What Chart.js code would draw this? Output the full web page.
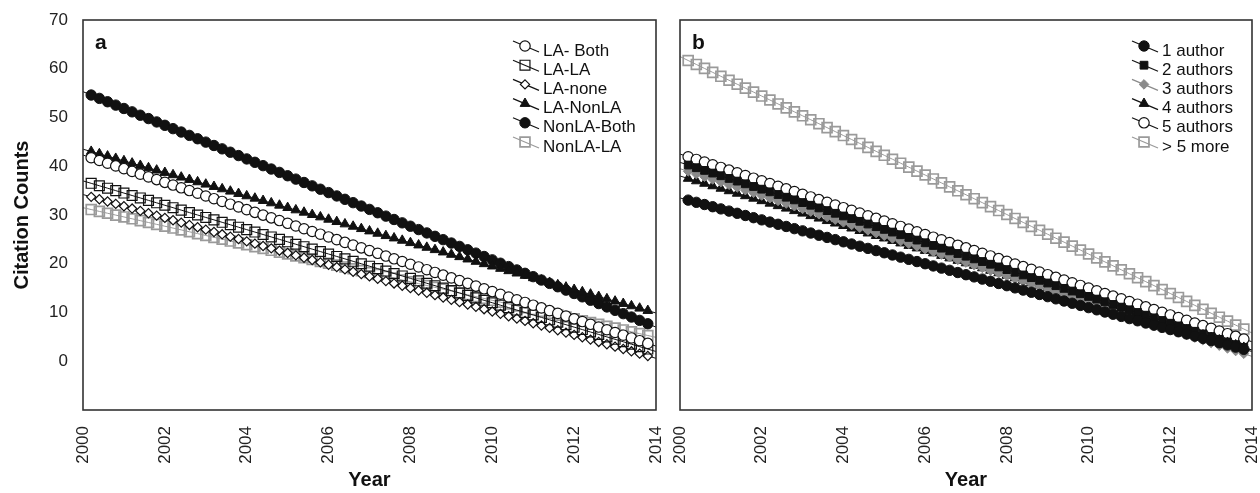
<!DOCTYPE html>
<html>
<head>
<meta charset="utf-8">
<title>Citation counts by year</title>
<script src="https://cdn.jsdelivr.net/npm/chart.js@4.4.1/dist/chart.umd.min.js"></script>
<style>
    html, body { margin: 0; padding: 0; background: #fff; }
    #wrap { position: relative; width: 1260px; height: 493px; }
    #chartA { position: absolute; left: 0; top: 0; }
    #chartB { position: absolute; left: 668px; top: 0; }
</style>
</head>
<body>
<div id="wrap">
    <canvas id="chartA" width="668" height="493"></canvas>
    <canvas id="chartB" width="592" height="493"></canvas>
</div>
<script>
// x positions of the fitted points (every 0.2 year)
const years = [2000, 2000.2, 2000.4, 2000.6, 2000.8, 2001, 2001.2, 2001.4, 2001.6, 2001.8,
    2002, 2002.2, 2002.4, 2002.6, 2002.8, 2003, 2003.2, 2003.4, 2003.6, 2003.8,
    2004, 2004.2, 2004.4, 2004.6, 2004.8, 2005, 2005.2, 2005.4, 2005.6, 2005.8,
    2006, 2006.2, 2006.4, 2006.6, 2006.8, 2007, 2007.2, 2007.4, 2007.6, 2007.8,
    2008, 2008.2, 2008.4, 2008.6, 2008.8, 2009, 2009.2, 2009.4, 2009.6, 2009.8,
    2010, 2010.2, 2010.4, 2010.6, 2010.8, 2011, 2011.2, 2011.4, 2011.6, 2011.8,
    2012, 2012.2, 2012.4, 2012.6, 2012.8, 2013, 2013.2, 2013.4, 2013.6, 2013.8, 2014];
const xTicks = [2000, 2002, 2004, 2006, 2008, 2010, 2012, 2014];
const yTicks = [0, 10, 20, 30, 40, 50, 60, 70];

// panel a
const laBoth = [42.30, 41.74, 41.18, 40.62, 40.06, 39.50, 38.94, 38.38, 37.82, 37.26,
    36.70, 36.14, 35.58, 35.02, 34.46, 33.90, 33.34, 32.78, 32.22, 31.66,
    31.10, 30.54, 29.98, 29.42, 28.86, 28.30, 27.74, 27.18, 26.62, 26.06,
    25.50, 24.94, 24.38, 23.82, 23.26, 22.70, 22.14, 21.58, 21.02, 20.46,
    19.90, 19.34, 18.78, 18.22, 17.66, 17.10, 16.54, 15.98, 15.42, 14.86,
    14.30, 13.74, 13.18, 12.62, 12.06, 11.50, 10.94, 10.38, 9.82, 9.26,
    8.70, 8.14, 7.58, 7.02, 6.46, 5.90, 5.34, 4.78, 4.22, 3.66, 3.10];
const laLa = [37, 36.5, 36, 35.5, 35, 34.5, 34, 33.5, 33, 32.5,
    32, 31.5, 31, 30.5, 30, 29.5, 29, 28.5, 28, 27.5,
    27, 26.5, 26, 25.5, 25, 24.5, 24, 23.5, 23, 22.5,
    22, 21.5, 21, 20.5, 20, 19.5, 19, 18.5, 18, 17.5,
    17, 16.5, 16, 15.5, 15, 14.5, 14, 13.5, 13, 12.5,
    12, 11.5, 11, 10.5, 10, 9.5, 9, 8.5, 8, 7.5,
    7, 6.5, 6, 5.5, 5, 4.5, 4, 3.5, 3, 2.5, 2];
const laNone = [34.20, 33.72, 33.24, 32.76, 32.28, 31.80, 31.32, 30.84, 30.36, 29.88,
    29.40, 28.92, 28.44, 27.96, 27.48, 27.00, 26.52, 26.04, 25.56, 25.08,
    24.60, 24.12, 23.64, 23.16, 22.68, 22.20, 21.72, 21.24, 20.76, 20.28,
    19.80, 19.32, 18.84, 18.36, 17.88, 17.40, 16.92, 16.44, 15.96, 15.48,
    15.00, 14.52, 14.04, 13.56, 13.08, 12.60, 12.12, 11.64, 11.16, 10.68,
    10.20, 9.72, 9.24, 8.76, 8.28, 7.80, 7.32, 6.84, 6.36, 5.88,
    5.40, 4.92, 4.44, 3.96, 3.48, 3.00, 2.52, 2.04, 1.56, 1.08, 0.60];
const laNonLa = [43.50, 43.02, 42.54, 42.06, 41.58, 41.10, 40.62, 40.14, 39.66, 39.18,
    38.70, 38.22, 37.74, 37.26, 36.78, 36.30, 35.82, 35.34, 34.86, 34.38,
    33.90, 33.42, 32.94, 32.46, 31.98, 31.50, 31.02, 30.54, 30.06, 29.58,
    29.10, 28.62, 28.14, 27.66, 27.18, 26.70, 26.22, 25.74, 25.26, 24.78,
    24.30, 23.82, 23.34, 22.86, 22.38, 21.90, 21.42, 20.94, 20.46, 19.98,
    19.50, 19.02, 18.54, 18.06, 17.58, 17.10, 16.62, 16.14, 15.66, 15.18,
    14.70, 14.22, 13.74, 13.26, 12.78, 12.30, 11.82, 11.34, 10.86, 10.38, 9.90];
const nonLaBoth = [55.30, 54.61, 53.92, 53.23, 52.54, 51.85, 51.16, 50.47, 49.78, 49.09,
    48.40, 47.71, 47.02, 46.33, 45.64, 44.95, 44.26, 43.57, 42.88, 42.19,
    41.50, 40.81, 40.12, 39.43, 38.74, 38.05, 37.36, 36.67, 35.98, 35.29,
    34.60, 33.91, 33.22, 32.53, 31.84, 31.15, 30.46, 29.77, 29.08, 28.39,
    27.70, 27.01, 26.32, 25.63, 24.94, 24.25, 23.56, 22.87, 22.18, 21.49,
    20.80, 20.11, 19.42, 18.73, 18.04, 17.35, 16.66, 15.97, 15.28, 14.59,
    13.90, 13.21, 12.52, 11.83, 11.14, 10.45, 9.76, 9.07, 8.38, 7.69, 7.00];
const nonLaLa = [31.50, 31.12, 30.74, 30.36, 29.98, 29.60, 29.22, 28.84, 28.46, 28.08,
    27.70, 27.32, 26.94, 26.56, 26.18, 25.80, 25.42, 25.04, 24.66, 24.28,
    23.90, 23.52, 23.14, 22.76, 22.38, 22.00, 21.62, 21.24, 20.86, 20.48,
    20.10, 19.72, 19.34, 18.96, 18.58, 18.20, 17.82, 17.44, 17.06, 16.68,
    16.30, 15.92, 15.54, 15.16, 14.78, 14.40, 14.02, 13.64, 13.26, 12.88,
    12.50, 12.12, 11.74, 11.36, 10.98, 10.60, 10.22, 9.84, 9.46, 9.08,
    8.70, 8.32, 7.94, 7.56, 7.18, 6.80, 6.42, 6.04, 5.66, 5.28, 4.90];

// panel b
const oneAuthor = [33.50, 33.05, 32.60, 32.15, 31.70, 31.25, 30.80, 30.35, 29.90, 29.45,
    29.00, 28.55, 28.10, 27.65, 27.20, 26.75, 26.30, 25.85, 25.40, 24.95,
    24.50, 24.05, 23.60, 23.15, 22.70, 22.25, 21.80, 21.35, 20.90, 20.45,
    20.00, 19.55, 19.10, 18.65, 18.20, 17.75, 17.30, 16.85, 16.40, 15.95,
    15.50, 15.05, 14.60, 14.15, 13.70, 13.25, 12.80, 12.35, 11.90, 11.45,
    11.00, 10.55, 10.10, 9.65, 9.20, 8.75, 8.30, 7.85, 7.40, 6.95,
    6.50, 6.05, 5.60, 5.15, 4.70, 4.25, 3.80, 3.35, 2.90, 2.45, 2.00];
const twoAuthors = [40.80, 40.25, 39.70, 39.15, 38.60, 38.05, 37.50, 36.95, 36.40, 35.85,
    35.30, 34.75, 34.20, 33.65, 33.10, 32.55, 32.00, 31.45, 30.90, 30.35,
    29.80, 29.25, 28.70, 28.15, 27.60, 27.05, 26.50, 25.95, 25.40, 24.85,
    24.30, 23.75, 23.20, 22.65, 22.10, 21.55, 21.00, 20.45, 19.90, 19.35,
    18.80, 18.25, 17.70, 17.15, 16.60, 16.05, 15.50, 14.95, 14.40, 13.85,
    13.30, 12.75, 12.20, 11.65, 11.10, 10.55, 10.00, 9.45, 8.90, 8.35,
    7.80, 7.25, 6.70, 6.15, 5.60, 5.05, 4.50, 3.95, 3.40, 2.85, 2.30];
const threeAuthors = [39.50, 38.95, 38.40, 37.85, 37.30, 36.75, 36.20, 35.65, 35.10, 34.55,
    34.00, 33.45, 32.90, 32.35, 31.80, 31.25, 30.70, 30.15, 29.60, 29.05,
    28.50, 27.95, 27.40, 26.85, 26.30, 25.75, 25.20, 24.65, 24.10, 23.55,
    23.00, 22.45, 21.90, 21.35, 20.80, 20.25, 19.70, 19.15, 18.60, 18.05,
    17.50, 16.95, 16.40, 15.85, 15.30, 14.75, 14.20, 13.65, 13.10, 12.55,
    12.00, 11.45, 10.90, 10.35, 9.80, 9.25, 8.70, 8.15, 7.60, 7.05,
    6.50, 5.95, 5.40, 4.85, 4.30, 3.75, 3.20, 2.65, 2.10, 1.55, 1.00];
const fourAuthors = [38.00, 37.49, 36.98, 36.47, 35.96, 35.45, 34.94, 34.43, 33.92, 33.41,
    32.90, 32.39, 31.88, 31.37, 30.86, 30.35, 29.84, 29.33, 28.82, 28.31,
    27.80, 27.29, 26.78, 26.27, 25.76, 25.25, 24.74, 24.23, 23.72, 23.21,
    22.70, 22.19, 21.68, 21.17, 20.66, 20.15, 19.64, 19.13, 18.62, 18.11,
    17.60, 17.09, 16.58, 16.07, 15.56, 15.05, 14.54, 14.03, 13.52, 13.01,
    12.50, 11.99, 11.48, 10.97, 10.46, 9.95, 9.44, 8.93, 8.42, 7.91,
    7.40, 6.89, 6.38, 5.87, 5.36, 4.85, 4.34, 3.83, 3.32, 2.81, 2.30];
const fiveAuthors = [42.50, 41.95, 41.40, 40.85, 40.30, 39.75, 39.20, 38.65, 38.10, 37.55,
    37.00, 36.45, 35.90, 35.35, 34.80, 34.25, 33.70, 33.15, 32.60, 32.05,
    31.50, 30.95, 30.40, 29.85, 29.30, 28.75, 28.20, 27.65, 27.10, 26.55,
    26.00, 25.45, 24.90, 24.35, 23.80, 23.25, 22.70, 22.15, 21.60, 21.05,
    20.50, 19.95, 19.40, 18.85, 18.30, 17.75, 17.20, 16.65, 16.10, 15.55,
    15.00, 14.45, 13.90, 13.35, 12.80, 12.25, 11.70, 11.15, 10.60, 10.05,
    9.50, 8.95, 8.40, 7.85, 7.30, 6.75, 6.20, 5.65, 5.10, 4.55, 4.00];
const moreAuthors = [62.50, 61.69, 60.88, 60.07, 59.26, 58.45, 57.64, 56.83, 56.02, 55.21,
    54.40, 53.59, 52.78, 51.97, 51.16, 50.35, 49.54, 48.73, 47.92, 47.11,
    46.30, 45.49, 44.68, 43.87, 43.06, 42.25, 41.44, 40.63, 39.82, 39.01,
    38.20, 37.39, 36.58, 35.77, 34.96, 34.15, 33.34, 32.53, 31.72, 30.91,
    30.10, 29.29, 28.48, 27.67, 26.86, 26.05, 25.24, 24.43, 23.62, 22.81,
    22.00, 21.19, 20.38, 19.57, 18.76, 17.95, 17.14, 16.33, 15.52, 14.71,
    13.90, 13.09, 12.28, 11.47, 10.66, 9.85, 9.04, 8.23, 7.42, 6.61, 5.80];

const BLACK = '#111';
const GRAY = '#9a9a9a';
const FONT = '"Liberation Sans", Arial, Helvetica, sans-serif';

function series(label, values, color, style, radius, fill, bw) {
    return {
        label,
        data: years.map((x, i) => ({ x, y: values[i] })),
        borderColor: color,
        borderWidth: 1,
        pointStyle: style,
        markerRadius: radius,
        // the fitted line runs edge to edge, the markers stop just short of it
        pointRadius: ctx => (ctx.dataIndex === 0 || ctx.dataIndex === years.length - 1) ? 0 : radius,
        pointHoverRadius: radius,
        pointBorderColor: color,
        pointBackgroundColor: fill,
        pointBorderWidth: bw,
        tension: 0,
        fill: false
    };
}

// frame, panel letter and the slanted-symbol legend
const panelDecor = {
    id: 'panelDecor',
    afterDatasetsDraw(chart, args, opts) {
        const { ctx, chartArea: a } = chart;
        ctx.save();
        ctx.strokeStyle = '#333';
        ctx.lineWidth = 1.6;
        ctx.strokeRect(a.left, a.top, a.right - a.left, a.bottom - a.top);

        ctx.fillStyle = '#111';
        ctx.textBaseline = 'middle';
        ctx.font = 'bold 21px ' + FONT;
        ctx.fillText(opts.letter, a.left + 12, a.top + 23);

        ctx.font = '17px ' + FONT;
        const tx = a.right - opts.textRight;
        chart.data.datasets.forEach((d, i) => {
            const ty = a.top + 31 + i * 19.2;
            const sx = tx - 30;
            ctx.strokeStyle = d.borderColor;
            ctx.lineWidth = 1.2;
            ctx.beginPath();
            ctx.moveTo(sx, ty - 10);
            ctx.lineTo(sx + 26, ty + 1);
            ctx.stroke();
            ctx.fillStyle = d.pointBackgroundColor;
            ctx.strokeStyle = d.pointBorderColor;
            ctx.lineWidth = d.pointBorderWidth;
            Chart.helpers.drawPoint(ctx, {
                pointStyle: d.pointStyle, radius: d.markerRadius,
                borderWidth: d.pointBorderWidth, rotation: 0
            }, sx + 12, ty - 5);
            ctx.fillStyle = '#111';
            ctx.fillText(d.label, tx, ty);
        });
        ctx.restore();
    }
};

function makePanel(id, datasets, letter, showY, padding, textRight) {
    return new Chart(document.getElementById(id), {
        type: 'line',
        data: { datasets },
        options: {
            responsive: false,
            animation: false,
            devicePixelRatio: 1,
            events: [],
            layout: { padding },
            scales: {
                x: {
                    type: 'linear', min: 2000, max: 2014,
                    grid: { display: false }, border: { display: false },
                    afterBuildTicks: s => { s.ticks = xTicks.map(v => ({ value: v })); },
                    afterFit: s => { s.height = 83; s.paddingLeft = 0; s.paddingRight = 0; },
                    ticks: {
                        autoSkip: false, minRotation: 90, maxRotation: 90, padding: 8,
                        color: '#222', font: { family: FONT, size: 17 },
                        callback: v => String(v)
                    },
                    title: {
                        display: true, text: 'Year', color: '#111',
                        font: { family: FONT, size: 20, weight: 'bold' },
                        padding: { top: 0, bottom: 1 }
                    }
                },
                y: {
                    display: showY, min: -10, max: 70,
                    grid: { display: false }, border: { display: false },
                    afterBuildTicks: s => { s.ticks = yTicks.map(v => ({ value: v })); },
                    afterFit: s => { s.width = showY ? 83 : 0; },
                    ticks: { padding: 7, color: '#222', font: { family: FONT, size: 17 } },
                    title: {
                        display: true, text: 'Citation Counts', color: '#111',
                        font: { family: FONT, size: 20, weight: 'bold' },
                        padding: { top: 10, bottom: 0 }
                    }
                }
            },
            plugins: {
                legend: { display: false },
                tooltip: { enabled: false },
                panelDecor: { letter, textRight }
            }
        },
        plugins: [panelDecor]
    });
}

makePanel('chartA', [
    series('LA- Both', laBoth, BLACK, 'circle', 5.2, '#fff', 1.2),
    series('LA-LA', laLa, BLACK, 'rect', 7, 'rgba(0,0,0,0)', 1.2),
    series('LA-none', laNone, BLACK, 'rectRot', 4.6, '#fff', 1.2),
    series('LA-NonLA', laNonLa, BLACK, 'triangle', 5.6, BLACK, 1),
    series('NonLA-Both', nonLaBoth, BLACK, 'circle', 5.2, BLACK, 1),
    series('NonLA-LA', nonLaLa, GRAY, 'rect', 7, 'rgba(0,0,0,0)', 1.7)
], 'a', true, { top: 20, right: 12, left: 0, bottom: 0 }, 113);

makePanel('chartB', [
    series('1 author', oneAuthor, BLACK, 'circle', 5.2, BLACK, 1),
    series('2 authors', twoAuthors, BLACK, 'rect', 5.5, BLACK, 1),
    series('3 authors', threeAuthors, '#8a8a8a', 'rectRot', 4.8, '#8a8a8a', 1),
    series('4 authors', fourAuthors, BLACK, 'triangle', 5.6, BLACK, 1),
    series('5 authors', fiveAuthors, BLACK, 'circle', 5.2, '#fff', 1.2),
    series('> 5 more', moreAuthors, GRAY, 'rect', 7, 'rgba(0,0,0,0)', 1.7)
], 'b', false, { top: 20, right: 8, left: 12, bottom: 0 }, 90);
</script>
</body>
</html>
